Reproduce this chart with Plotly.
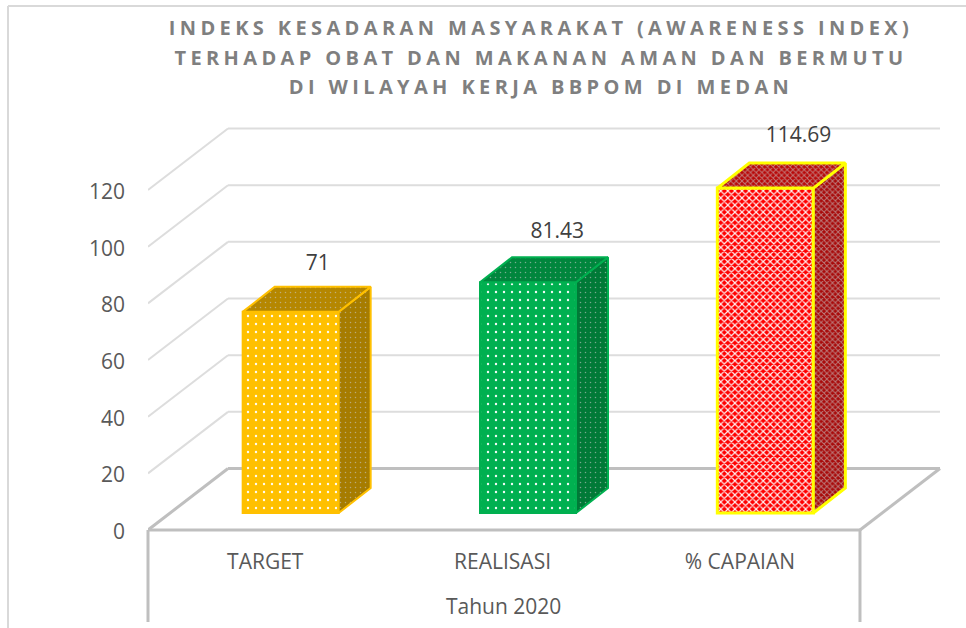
import plotly.graph_objects as go

categories = ["TARGET", "REALISASI", "% CAPAIAN"]
values = [71, 81.43, 114.69]
labels = ["71", "81.43", "114.69"]
tick_values = [0, 20, 40, 60, 80, 100, 120]
front_colors = ["#FFC000", "#00B050", "#FF0000"]
side_colors = ["#A67C00", "#007A37", "#A80A0A"]
top_colors = ["#B58700", "#00863D", "#B80808"]
edge_colors = ["#FFC000", "#00B050", "#FFFF00"]
edge_widths = [2, 2, 3]
pattern_shapes = [".", ".", "x"]
pattern_sizes = [8, 8, 5]
pattern_solidity = [0.07, 0.07, 0.42]
label_dx_px = [-1, 1, 5]
label_dy_px = [-4, -1, 0]
title_text = ("INDEKS KESADARAN MASYARAKAT (AWARENESS INDEX)<br>"
              "TERHADAP OBAT DAN MAKANAN AMAN DAN BERMUTU<br>"
              "DI WILAYAH KERJA BBPOM DI MEDAN")
axis_note = "Tahun 2020"

W, H = 966, 628
PL, PB = 148, 542            # plot left / bottom pixel
CAT_PX = 237.33              # px per category
VAL_PX = 2.833               # px per value unit
ZERO_PX = 530

wall_dx, wall_dy = 80 / CAT_PX, 61.5 / VAL_PX
bar_x0, bar_y0 = 24 / CAT_PX, 17 / VAL_PX
bar_dx, bar_dy = 32 / CAT_PX, 25 / VAL_PX
bar_w = 96 / CAT_PX
xl, xr = -0.5, 2.5
grid_color, floor_color, frame_color = "#DDDDDD", "#BFBFBF", "#D9D9D9"

shapes = []
def seg(x0, y0, x1, y1, color, width):
    shapes.append(dict(type="line", xref="x", yref="y", x0=x0, y0=y0, x1=x1, y1=y1,
                       line=dict(color=color, width=width), layer="below"))

for v in tick_values[1:]:
    seg(xl, v, xl + wall_dx, v + wall_dy, grid_color, 2)
    seg(xl + wall_dx, v + wall_dy, xr + wall_dx, v + wall_dy, grid_color, 2)
seg(xl, 0, xl + wall_dx, wall_dy, floor_color, 3)
seg(xl + wall_dx, wall_dy, xr + wall_dx, wall_dy, floor_color, 3)
seg(xr + wall_dx, wall_dy, xr, 0, floor_color, 3)
seg(xl, 0, xr, 0, floor_color, 3)

# outer chart frame and multi-level axis separators (paper-relative)
plot_w, plot_h = W - PL, PB
def px_x(p): return (p - PL) / plot_w
def px_y(p): return (PB - p) / plot_h
shapes.append(dict(type="line", xref="paper", yref="paper", x0=px_x(8), x1=px_x(8),
                   y0=px_y(6), y1=px_y(628), line=dict(color=frame_color, width=2), layer="below"))
shapes.append(dict(type="line", xref="paper", yref="paper", x0=px_x(8), x1=px_x(966),
                   y0=px_y(6), y1=px_y(6), line=dict(color=frame_color, width=2), layer="below"))
for xp in (PL, PL + 3 * CAT_PX):
    shapes.append(dict(type="line", xref="paper", yref="paper", x0=px_x(xp), x1=px_x(xp),
                       y0=px_y(ZERO_PX), y1=px_y(622), line=dict(color=floor_color, width=3),
                       layer="below"))

fig = go.Figure()

# front faces: one trace per category so the pattern colours stay scalar
for i, v in enumerate(values):
    fig.add_trace(go.Bar(
        x=[i], y=[v], base=bar_y0, width=bar_w, offset=bar_x0 - bar_w / 2,
        marker=dict(color=front_colors[i], line=dict(color=edge_colors[i], width=edge_widths[i]),
                    pattern=dict(shape=pattern_shapes[i], size=pattern_sizes[i],
                                 solidity=pattern_solidity[i], fgcolor="#FFFFFF",
                                 bgcolor=front_colors[i], fgopacity=0.95, fillmode="overlay")),
        showlegend=False, hoverinfo="skip"))

# side and top faces derived from the values
for i, v in enumerate(values):
    x0 = i + bar_x0 - bar_w / 2
    x1 = i + bar_x0 + bar_w / 2
    y0 = bar_y0
    y1 = bar_y0 + v
    patt = dict(shape=pattern_shapes[i], size=max(pattern_sizes[i] - 3, 4),
                solidity=pattern_solidity[i], fgcolor="#C8C8C8", fgopacity=0.6, fillmode="overlay")
    fig.add_trace(go.Scatter(
        x=[x1, x1 + bar_dx, x1 + bar_dx, x1, x1],
        y=[y0, y0 + bar_dy, y1 + bar_dy, y1, y0],
        mode="lines", fill="toself", fillcolor=side_colors[i],
        fillpattern=dict(bgcolor=side_colors[i], **patt),
        line=dict(color=edge_colors[i], width=edge_widths[i]), showlegend=False, hoverinfo="skip"))
    fig.add_trace(go.Scatter(
        x=[x0, x0 + bar_dx, x1 + bar_dx, x1, x0],
        y=[y1, y1 + bar_dy, y1 + bar_dy, y1, y1],
        mode="lines", fill="toself", fillcolor=top_colors[i],
        fillpattern=dict(bgcolor=top_colors[i], **patt),
        line=dict(color=edge_colors[i], width=edge_widths[i]), showlegend=False, hoverinfo="skip"))

# data labels
fig.add_trace(go.Scatter(
    x=[i + bar_x0 + (27 + label_dx_px[i]) / CAT_PX + 0.005 for i in range(3)],
    y=[v + 24.0 + label_dy_px[i] / VAL_PX for i, v in enumerate(values)],
    text=labels, mode="text", textposition="middle center",
    textfont=dict(family="Open Sans", size=21, color="#404040"),
    showlegend=False, hoverinfo="skip"))

fig.update_layout(
    width=W, height=H, autosize=False, barmode="overlay",
    margin=dict(l=PL, r=0, t=0, b=H - PB, pad=0),
    paper_bgcolor="white", plot_bgcolor="rgba(0,0,0,0)",
    shapes=shapes,
    title=dict(text=title_text, xref="container", yref="container", x=541 / W, xanchor="center",
               y=1 - 35 / H, yanchor="bottom",
               font=dict(family="Open Sans", size=20, color="#7F7F7F", weight="bold")),
    annotations=[dict(text=axis_note, x=px_x(503), y=px_y(606), xref="paper", yref="paper",
                      showarrow=False, xanchor="center", yanchor="middle",
                      font=dict(family="Open Sans", size=21, color="#595959"))],
)
fig.update_xaxes(range=[xl, xl + (W - PL) / CAT_PX], tickmode="array",
                 tickvals=[i - 0.006 for i in range(3)],
                 ticktext=categories, showgrid=False, zeroline=False, showline=False, ticks="",
                 ticklabelstandoff=5,
                 tickfont=dict(family="Open Sans", size=21, color="#595959"))
fig.update_yaxes(range=[(ZERO_PX - PB) / VAL_PX, ZERO_PX / VAL_PX], tickmode="array",
                 tickvals=[v - 0.6 for v in tick_values], ticktext=[str(v) for v in tick_values],
                 showgrid=False, zeroline=False, showline=False, ticks="",
                 ticklabelstandoff=22,
                 tickfont=dict(family="Open Sans", size=21, color="#595959"))

post = """
document.documentElement.style.margin='0';
document.body.style.margin='0';
document.querySelectorAll('.gtitle').forEach(function(t){
  t.style.letterSpacing='4.38px';
  var y0=parseFloat(t.getAttribute('y'));
  t.querySelectorAll('tspan.line').forEach(function(s,i){
    s.removeAttribute('dy');
    s.setAttribute('y',(y0+i*29.5)+'px');
  });
});
"""
fig.write_html("out.html", post_script=post, config=dict(displayModeBar=False))
